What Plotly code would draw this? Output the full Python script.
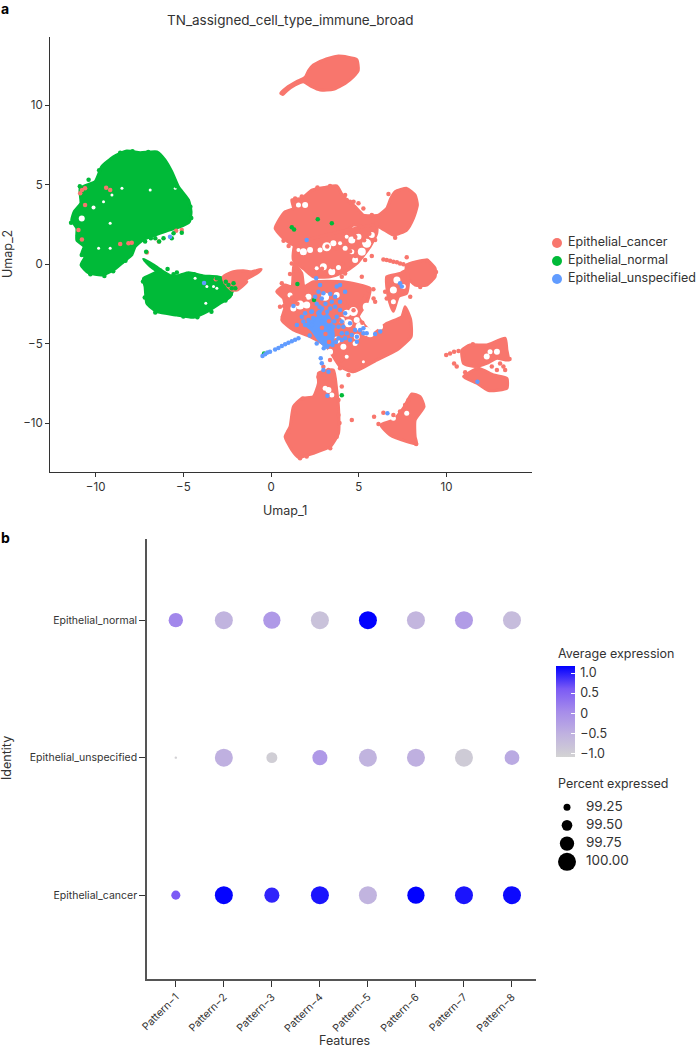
import plotly.graph_objects as go

W, H = 696, 1050
FONT = "Inter"
INK = "#333333"
SALMON, GREEN, BLUE = "#F8766D", "#00BA38", "#619CFF"

# ---------- Panel a: UMAP cluster outlines ----------
green_upper_u = [-8.22,-7.46,-6.51,-6.04,-5.66,-5.28,-4.71,-4.56,-4.66,-5.28,-5.94,-6.61,-7.27,-7.75,-7.94,-8.41,-8.98,-9.65,-10.41,-10.83,-10.6,-10.79,-10.66,-11.07,-11.07,-11.36,-11.22,-10.84,-10.88,-10.03,-9.65,-8.98]
green_upper_v = [7.11,7.0,7.06,6.54,5.81,4.86,4.03,3.29,2.66,2.31,2.09,1.82,1.55,1.09,0.57,0.14,-0.38,-0.69,-0.55,-0.06,0.46,0.67,1.09,1.51,2.25,2.77,3.29,3.82,4.76,5.18,6.12,6.75]
green_lower_u = [-7.27,-6.70,-6.14,-5.57,-4.71,-3.86,-3.09,-2.52,-2.15,-2.34,-2.91,-3.66,-4.43,-5.37,-6.51,-7.08,-7.18,-7.27,-6.51,-6.89]
green_lower_v = [0.30,-0.06,-0.48,-0.80,-0.55,-0.75,-0.80,-1.01,-1.43,-2.06,-2.47,-3.0,-3.35,-3.21,-3.0,-2.47,-1.43,-0.9,-0.48,-0.13]

leaf_u = [0.55,0.89,1.46,1.94,2.13,2.41,2.98,3.83,4.88,4.97,4.69,4.22,3.55,2.79,2.32,1.84,1.37,0.89,0.67]
leaf_v = [10.74,11.09,11.47,11.74,12.16,12.52,12.83,13.08,12.87,12.20,11.78,11.36,10.99,10.94,11.15,11.47,11.26,10.90,10.67]
wedge_u = [-2.72,-2.15,-1.58,-1.10,-0.57,-0.81,-1.48,-1.38,-1.95,-2.24,-2.62]
wedge_v = [-0.8,-0.48,-0.42,-0.48,-0.33,-0.58,-1.01,-1.11,-1.64,-1.64,-1.21]
upper_u = [0.23,0.51,0.80,1.27,1.18,1.75,2.32,3.08,3.74,4.12,4.79,5.26,6.12,6.59,6.82,7.07,7.73,8.21,8.34,8.11,7.73,6.97,6.12,5.26,4.69,4.12,3.17,2.03,1.27,0.70]
upper_v = [2.24,2.87,3.29,3.50,4.03,4.13,4.65,4.82,4.91,4.24,3.61,3.08,3.08,3.50,4.13,4.55,4.76,4.34,3.71,2.87,2.14,1.82,2.35,2.35,2.45,1.93,1.72,1.20,1.20,1.62]
band_u = [1.37,5.26,6.02,6.02,5.64,4.89,4.22,3.36,2.41,1.94,1.27]
band_v = [1.20,2.35,2.45,1.93,1.09,0.04,-0.48,-0.80,-0.80,-0.38,0.25]
centre_u = [0.32,0.80,1.18,1.31,1.75,1.88,2.41,4.12,5.64,5.45,4.98,5.83,6.59,7.45,7.64,7.96,7.98,7.17,6.02,4.69,3.93,3.17,2.22,1.27,0.61,0.80,0.70]
centre_v = [-1.74,-1.32,-1.42,0.04,-0.59,-1.42,-1.11,-1.11,-1.53,-2.47,-3.31,-4.36,-3.73,-3.31,-2.68,-3.52,-4.57,-5.41,-6.04,-6.77,-6.45,-5.20,-4.57,-4.15,-3.52,-2.68,-2.16]
stem_u = [2.70,3.55,3.74,3.84,3.84,3.37,2.41,1.56,1.18,0.80,1.08,1.27,1.75,2.41,2.70]
stem_v = [-6.87,-6.66,-7.92,-8.97,-10.65,-11.49,-11.90,-12.16,-11.69,-10.86,-10.23,-8.97,-8.45,-8.34,-7.50]
east_u = [7.73,8.87,9.35,9.35,8.87,8.21,7.73]
east_v = [-0.06,0.25,-0.27,-0.8,-1.32,-1.32,-0.8]
east_sparse_u = [6.59,7.35,7.73,7.83,7.73,7.26,6.97,6.75,6.59]
east_sparse_v = [-0.8,-0.59,-0.38,-1.21,-1.84,-2.05,-2.97,-2.37,-1.42]
far_top_u = [10.87,11.34,12.29,13.34,13.44,13.53,12.87,12.29,11.63,10.97]
far_top_v = [-5.41,-5.09,-5.09,-4.67,-5.41,-6.04,-5.93,-6.25,-6.45,-6.25]
far_low_u = [10.97,11.82,12.67,13.44,13.44,12.39,11.73]
far_low_v = [-7.08,-6.56,-6.98,-7.19,-7.82,-7.96,-7.50]
tri_u = [6.25,6.97,7.54,8.02,8.49,8.72,8.21,8.21,8.30,7.73,6.78]
tri_v = [-10.12,-9.81,-9.07,-8.17,-8.34,-8.97,-9.81,-10.86,-11.32,-11.17,-10.75]
blue_core_u = [2.42,2.74,3.08,3.36,3.54,3.49,3.08,2.67,2.33,2.0]
blue_core_v = [-3.51,-2.97,-3.09,-3.51,-4.36,-4.99,-5.14,-4.68,-4.15,-3.83]

# Uncovered pockets inside the clusters
gap_u = [3.17,3.55,2.79,2.22,1.84,1.56,4.60,4.98,4.31,5.45,5.74,5.17,4.79,4.22,3.93,2.98,3.46,3.84,2.60,4.60,
         1.08,1.65,1.27,2.03,2.13,3.08,3.74,4.31,4.69,4.88,4.03,4.41,5.07,5.45,5.45,
         4.12,3.74,4.79,4.88,5.64,6.21,4.31,5.26,3.36,3.27,3.46,3.08,6.97,7.73,
         12.29,12.87,12.48,7.17,7.54,6.97,6.97,1.94,1.56,
         -10.79,-10.12,-9.55,-9.07,-9.17,-6.89,-5.46,-8.5,-9.83,-9.17,-3.72,-3.66,-3.28,-3.09,-4.33]
gap_v = [1.09,1.30,0.88,0.88,0.78,0.88,1.51,1.72,1.72,1.30,1.82,0.78,0.25,0.99,1.30,-0.17,-0.48,-0.21,-0.27,0.78,
         -1.95,-2.58,-2.79,-2.58,-2.05,-2.05,-1.95,-3.10,-2.99,-3.52,-3.52,-3.73,-3.94,-4.25,-2.68,
         -5.2,-4.78,-4.99,-4.57,-4.36,-3.94,-5.83,-6.14,-5.51,-7.92,-8.24,-7.82,-9.70,-9.39,
         -5.82,-5.51,-5.51,-1.0,-1.42,-1.63,-2.37,3.71,3.71,
         2.87,3.55,3.92,4.34,2.56,4.66,4.76,4.76,0.99,0.99,-2.47,-1.42,-1.42,-1.53,-0.90]
gap_px = [9,6,5,6,7,4,7,6,4,9,6,8,6,5,4,7,7,5,4,5,
          5,9,6,7,6,8,6,7,9,6,6,8,9,9,8,
          6,7,5,6,8,6,4,3,6,6,5,5,5,5,
          6,6,5,7,5,7,5,6,5,
          6,4,3,3,3,3,3,3,3,3,3,3,3,3,3]

# Individual cells
cancer_u = [7.73,6.69,7.07,0.61,1.08,1.18,0.74,5.93,5.84,5.55,5.36,6.59,6.50,7.93,9.98,10.20,10.43,10.68,10.43,10.58,11.06,13.05,13.24,13.34,12.87,12.58,13.59,4.03,3.84,4.60,1.81,4.41,3.93,3.36,3.84,4.03,2.98,3.27,5.87,6.12,6.40,6.97,7.35,7.64,7.83,8.27,5.26,4.98,4.50,4.22,6.02,5.74,1.0,0.71,5.74,5.36,5.93,5.17,4.22,4.03,5.83,
            -10.78,-10.6,-10.88,-9.40,-9.17,-10.98,-10.78,-8.6,-8.13,-7.94,-7.08,-6.40,-5.41,-5.09,-10.6,-3.15,
            3.2,3.7,4.5,4.8,5.3,5.6,4.5,4.8,2.9,3.5,4.1,1.2,1.9,1.5,4.3,4.7,4.2,5.3,5.2,3.0,3.6,3.3,3.7,2.9,2.5,3.1,3.9,3.3,3.4,
            6.40,6.59,6.78,6.97,7.17,7.35,7.54,7.73,
            1.37,1.75,2.64,3.36,4.31,4.70,0.51,0.67,1.0,0.89,1.37,3.84,3.90,3.74,3.37,2.03,1.65,10.97,11.5,8.9,9.4,8.5,2.7,3.0,3.6]
cancer_v = [0.42,4.40,1.66,-1.21,-0.63,0.04,-2.64,-2.37,-2.16,-1.63,-2.05,-2.16,-1.74,-2.05,-5.72,-5.62,-5.51,-5.47,-6.25,-6.45,-6.81,-6.25,-6.45,-6.66,-6.66,-6.45,-5.97,-7.71,-8.55,-9.81,-8.45,-6.98,-6.56,-6.04,-6.14,-6.04,-6.46,-6.66,-9.60,-10.06,-9.35,-9.49,-9.28,-8.87,-8.55,-11.32,3.50,3.82,3.92,4.34,2.56,3.08,1.13,1.47,0.50,0.25,1.51,-0.80,-0.59,-0.80,-1.59,
            4.66,4.76,4.45,4.80,4.66,2.14,1.55,1.26,1.30,1.34,0.72,1.41,2.10,2.14,3.71,-0.96,
            1.1,1.0,1.9,1.7,1.5,1.9,0.8,0.5,-0.3,-0.2,0.0,-2.1,-2.2,-2.5,-2.6,-2.9,-2.4,-2.2,-3.7,-3.1,-2.6,-3.6,-4.8,-4.0,-3.2,-4.4,-3.5,-4.9,-2.6,
            0.29,0.25,0.21,0.15,0.11,0.04,-0.02,-0.10,
            4.13,4.25,4.82,4.91,4.03,3.92,-2.68,-3.31,-10.54,-10.86,-9.39,-9.49,-10.0,-10.86,-11.59,-12.11,-12.22,-5.72,-5.05,0.2,-0.5,-1.45,-7.1,-7.2,-7.3]
normal_u = [2.66,3.46,1.18,1.31,1.50,2.45,-0.40,4.03,-2.58,-2.43,-2.14,-2.04,-2.71,-2.24,-3.09,-5.56,-5.90,-5.37,-4.8,-6.32,-6.38,-6.6,-6.85,-7.18,-6.13,-5.56,-5.66,-5.09,-7.12,-10.79,
            -10.9,-11.0,-11.4,-10.3,-9.5,-9.0,-8.3,-6.1,-5.4,-4.6,-4.55,-4.9,-8.6,-7.9,-7.0,-9.8,-10.4,
            -7.2,-7.3,-6.6,-5.0,-4.2,-3.4,-2.6,-2.3,-4.4,-5.0]
normal_v = [2.81,2.56,2.31,2.18,-1.26,-2.26,-5.62,-8.26,-1.11,-1.32,-1.21,-1.53,-1.42,-1.53,-0.90,-0.65,-0.31,-0.54,-0.63,-0.41,1.41,1.62,1.62,1.41,1.62,1.93,1.62,1.97,0.78,0.57,
            4.9,1.8,2.6,-0.65,-0.75,-0.45,0.2,6.5,4.9,3.6,2.9,4.1,7.0,7.1,7.05,5.9,5.3,
            -2.1,-1.1,-3.05,-3.3,-3.35,-3.0,-2.3,-1.9,-0.65,-0.7]
unspec_u = [-0.49,-0.34,-0.21,-0.06,0.23,0.42,0.61,0.80,0.99,1.18,1.37,1.56,
            2.57,2.79,2.70,2.51,2.98,3.37,3.74,3.93,4.22,3.65,3.93,3.46,4.22,3.93,3.74,4.50,4.12,4.79,5.07,5.26,5.45,5.26,4.32,4.60,4.89,4.22,4.03,4.50,4.89,5.93,6.22,1.75,1.47,1.94,2.32,1.27,2.83,2.89,2.98,3.27,3.21,7.35,7.45,11.76,6.63,2.03,4.03,3.55,2.32,1.94,1.84,2.13,2.89,2.76,3.37,3.65,4.03,3.84,3.84,-3.82,-5.76,
            2.6,2.9,3.1,2.7,3.2,2.4,2.3,2.9,3.4,3.6,3.7,3.0,2.2,2.6,3.2,3.5]
unspec_v = [-5.78,-5.68,-5.57,-5.51,-5.37,-5.28,-5.16,-5.05,-4.95,-4.86,-4.76,-4.67,
            -0.90,-1.32,-1.74,-2.05,-1.84,-1.89,-1.42,-1.32,-1.74,-2.05,-2.37,-2.37,-3.10,-2.89,-3.31,-3.73,-3.94,-4.15,-4.15,-4.36,-4.36,-4.04,-4.36,-4.46,-4.57,-4.67,-4.78,-4.78,-4.88,-4.40,-4.25,-3.31,-3.83,-3.10,-2.99,-2.64,-5.93,-6.24,-6.66,-6.77,-8.28,-1.21,-1.42,-7.40,-9.39,1.51,-3.62,-3.94,-3.83,-3.83,-3.62,-3.52,-2.16,-2.68,-2.79,-2.68,-4.36,-4.67,-3.94,-1.2,1.72,
            -2.5,-2.8,-2.5,-3.1,-3.0,-3.4,-3.0,-3.6,-4.2,-3.6,-4.9,-5.3,-4.5,-5.0,-5.2,-5.1]

key_names = ["Epithelial_cancer", "Epithelial_normal", "Epithelial_unspecified"]

# ---------- Panel b: dot plot ----------
features = ["Pattern\u22121","Pattern\u22122","Pattern\u22123","Pattern\u22124","Pattern\u22125","Pattern\u22126","Pattern\u22127","Pattern\u22128"]
identities = ["Epithelial_cancer","Epithelial_unspecified","Epithelial_normal"]
expr_cancer = [0.6,1.15,0.95,1.05,-0.55,1.17,1.05,1.12]
expr_unspec = [-1.05,-0.5,-1.0,-0.15,-0.55,-0.5,-0.95,-0.4]
expr_normal = [0.1,-0.55,-0.15,-0.8,1.17,-0.6,-0.2,-0.7]
pct_cancer = [99.39,100,99.80,100,100,99.95,100,100]
pct_unspec = [98.94,100,99.52,99.80,100,100,100,99.78]
pct_normal = [99.75,100,99.95,100,100,100,100,100]
pct_levels = [99.25,99.50,99.75,100.00]
expr_ticks = [1.0,0.5,0,-0.5,-1.0]
expr_labels = ["\u20091.0","\u20090.5","\u20090","\u2009\u22120.5","\u2009\u22121.0"]
GRAD = [[0,"#D3D3D3"],[0.25,"#C0B2E0"],[0.5,"#A68CEA"],[0.75,"#7B5AF5"],[1,"#0000FF"]]

def dia(p):
    return 18 - (100 - p) * 14.67

def px_x(a, b):
    return [a / W, b / W]

def px_y(top, bottom):
    return [(H - bottom) / H, (H - top) / H]

fig = go.Figure()

def blob(u, v, color):
    fig.add_trace(go.Scatter(x=u + u[:1], y=v + v[:1], mode="lines", fill="toself", fillcolor=color,
                             line=dict(color=color, width=3, shape="spline", smoothing=0.5), hoverinfo="skip",
                             showlegend=False, xaxis="x", yaxis="y"))

for u, v in [(green_upper_u, green_upper_v), (green_lower_u, green_lower_v)]:
    blob(u, v, GREEN)
for u, v in [(leaf_u, leaf_v), (wedge_u, wedge_v), (upper_u, upper_v), (band_u, band_v),
             (centre_u, centre_v), (stem_u, stem_v), (east_u, east_v), (east_sparse_u, east_sparse_v),
             (far_top_u, far_top_v), (far_low_u, far_low_v), (tri_u, tri_v)]:
    blob(u, v, SALMON)

fig.add_trace(go.Scatter(x=gap_u, y=gap_v, mode="markers", hoverinfo="skip", showlegend=False,
                         marker=dict(color="white", size=gap_px, opacity=1, line_width=0), xaxis="x", yaxis="y"))
blob(blue_core_u, blue_core_v, BLUE)

for name, u, v, c in [(key_names[0], cancer_u, cancer_v, SALMON),
                      (key_names[1], normal_u, normal_v, GREEN),
                      (key_names[2], unspec_u, unspec_v, BLUE)]:
    fig.add_trace(go.Scatter(x=u, y=v, mode="markers", name=name, showlegend=False,
                             marker=dict(color=c, size=4.5, opacity=1, line_width=0), xaxis="x", yaxis="y"))

# Dots with native colour bar
xs, ys, cs, ss = [], [], [], []
for ident, ex, pc in zip(identities, [expr_cancer, expr_unspec, expr_normal], [pct_cancer, pct_unspec, pct_normal]):
    for f, e, p in zip(features, ex, pc):
        xs.append(f); ys.append(ident); cs.append(e); ss.append(dia(p))
fig.add_trace(go.Scatter(
    x=xs, y=ys, mode="markers", showlegend=False, xaxis="x2", yaxis="y2",
    marker=dict(size=ss, sizemode="diameter", color=cs, cmin=-1.09, cmax=1.175, colorscale=GRAD, opacity=1, line_width=0,
                colorbar=dict(x=556/W, xanchor="left", y=(H-757)/H, yanchor="bottom", lenmode="pixels", len=91,
                              thicknessmode="pixels", thickness=19, outlinewidth=0, borderwidth=0,
                              ticks="inside", ticklen=4, tickcolor="white", tickwidth=1,
                              tickvals=expr_ticks, ticktext=expr_labels, ypad=0, xpad=0,
                              tickfont=dict(family=FONT, size=12.5, color=INK)))))

# Cell-type key
fig.add_trace(go.Scatter(x=[0, 0, 0], y=key_names, mode="markers", showlegend=False, hoverinfo="skip",
                         marker=dict(color=[SALMON, GREEN, BLUE], size=10, opacity=1, line_width=0), xaxis="x3", yaxis="y3"))
fig.add_trace(go.Scatter(x=[0, 0, 0], y=key_names, mode="text", text=key_names, textposition="middle right",
                         showlegend=False, hoverinfo="skip", textfont=dict(family=FONT, size=12.5, color=INK),
                         xaxis="x4", yaxis="y3"))
# Size key
fig.add_trace(go.Scatter(x=[0]*4, y=[f"{p:.2f}" for p in pct_levels], mode="markers", showlegend=False, hoverinfo="skip",
                         marker=dict(color="black", size=[dia(p) for p in pct_levels], opacity=1, line_width=0), xaxis="x5", yaxis="y5"))
fig.add_trace(go.Scatter(x=[0]*4, y=[f"{p:.2f}" for p in pct_levels], mode="text", text=[f"{p:.2f}" for p in pct_levels],
                         textposition="middle right", showlegend=False, hoverinfo="skip",
                         textfont=dict(family=FONT, size=13.5, color=INK), xaxis="x6", yaxis="y5"))

tick = dict(ticks="outside", ticklen=4, tickcolor=INK, showgrid=False, zeroline=False, showline=True, automargin=False,
            linecolor=INK, linewidth=1, tickfont=dict(family=FONT, size=11.5, color=INK))
hidden = dict(visible=False, showgrid=False, zeroline=False, fixedrange=True, automargin=False)
tick2 = {**tick, "tickfont": dict(family=FONT, size=10.5, color=INK), "ticklen": 6, "linecolor": "#555555", "linewidth": 1.5}

def note(text, x, y, size=12.5, color=INK, anchor="center", angle=0):
    return dict(text=text, xref="paper", yref="paper", x=x/W, y=(H-y)/H, showarrow=False, xanchor=anchor, yanchor="middle",
                textangle=angle, font=dict(family=FONT, size=size, color=color), borderpad=0)

fig.update_layout(
    width=W, height=H, autosize=False, margin=dict(l=0, r=0, t=0, b=0, autoexpand=False),
    paper_bgcolor="white", plot_bgcolor="white", showlegend=False,
    font=dict(family=FONT, color=INK),
    xaxis=dict(domain=px_x(50, 532), range=[-12.6, 14.87], tickvals=[-10, -5, 0, 5, 10], anchor="y", tickformat="d", **tick),
    yaxis=dict(domain=px_y(37, 472), range=[-13.08, 14.28], tickvals=[-10, -5, 0, 5, 10], anchor="x", tickformat="d", **tick),
    xaxis2=dict(domain=px_x(147, 536), range=[-0.6, 7.5], type="category", categoryorder="array", categoryarray=features,
                anchor="y2", tickangle=-45, **tick2),
    yaxis2=dict(domain=px_y(539, 979), range=[-0.61, 2.59], type="category", categoryorder="array", categoryarray=identities,
                anchor="x2", **tick2),
    xaxis3=dict(domain=px_x(547, 567), range=[-1, 1], anchor="y3", **hidden),
    xaxis4=dict(domain=px_x(568, 696), range=[0, 1], anchor="y3", **hidden),
    yaxis3=dict(domain=px_y(234, 288), type="category", categoryorder="array", categoryarray=key_names[::-1],
                range=[-0.5, 2.5], anchor="x3", **hidden),
    xaxis5=dict(domain=px_x(557, 577), range=[-1, 1], anchor="y5", **hidden),
    xaxis6=dict(domain=px_x(586, 690), range=[0, 1], anchor="y5", **hidden),
    yaxis5=dict(domain=px_y(798, 871), type="category", categoryorder="array", categoryarray=[f"{p:.2f}" for p in pct_levels[::-1]],
                range=[-0.5, 3.5], anchor="x5", **hidden),
    annotations=[
        note("TN_assigned_cell_type_immune_broad", 290.5, 20, size=13.5),
        note("<b>a</b>", 0, 9, size=14, color="black", anchor="left"),
        note("<b>b</b>", 0, 537, size=14, color="black", anchor="left"),
        note("Average expression", 557, 653, anchor="left"),
        note("Percent expressed", 557, 783, anchor="left"),
        note("Umap_1", 285, 510),
        note("Umap_2", 7, 254, angle=-90),
        note("Features", 344, 1040),
        note("Identity", 7, 758, angle=-90),
    ],
)
fig.write_html("out.html", config={"displayModeBar": False}, post_script="document.body.style.margin='0';")
